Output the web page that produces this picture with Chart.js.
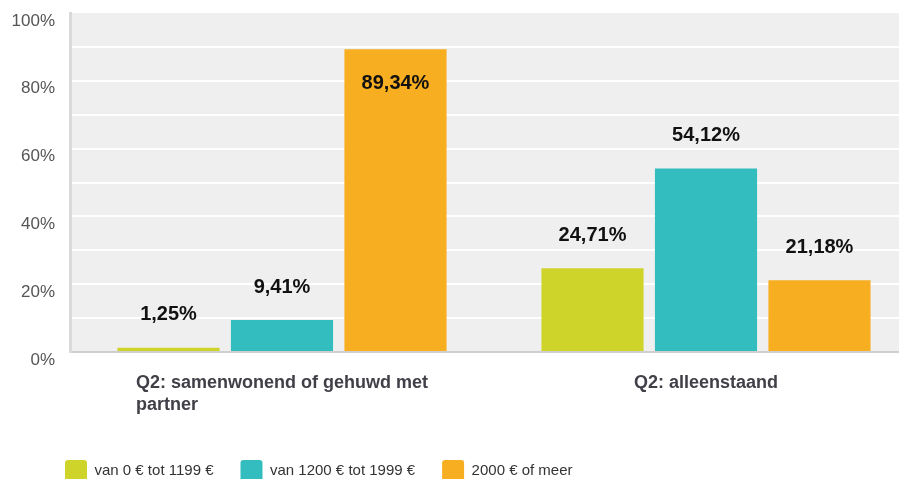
<!DOCTYPE html>
<html>
<head>
<meta charset="utf-8">
<script src="https://cdn.jsdelivr.net/npm/chart.js@4/dist/chart.umd.min.js"></script>
<style>
html,body{margin:0;padding:0;background:#fff;overflow:hidden;}
#wrap{position:relative;width:930px;height:492px;}
</style>
</head>
<body>
<div id="wrap"><canvas id="c"></canvas></div>
<script>
const categories = [
  ["Q2: samenwonend of gehuwd met", "partner"],
  ["Q2: alleenstaand"]
];
const seriesNames = ["van 0 € tot 1199 €", "van 1200 € tot 1999 €", "2000 € of meer"];
const low = [1.25, 24.71];
const mid = [9.41, 54.12];
const high = [89.34, 21.18];
const yTicks = [0, 20, 40, 60, 80, 100];
const colors = ["#cfd42a", "#33bdbf", "#f7ae20"];

const FONT = "'Liberation Sans', Arial, sans-serif";

const plotBg = {
  id: 'plotBg',
  beforeDraw(chart) {
    const {ctx, chartArea: a} = chart;
    ctx.save();
    ctx.fillStyle = '#efefef';
    ctx.fillRect(a.left, a.top, a.right - a.left, a.bottom - a.top);
    ctx.restore();
  }
};

const legendShift = {
  id: 'legendShift',
  afterLayout(chart) {
    if (chart.legend) chart.legend.left = 38;
  }
};

const valueLabels = {
  id: 'valueLabels',
  afterDatasetsDraw(chart) {
    const {ctx} = chart;
    ctx.save();
    ctx.font = "bold 20px " + FONT;
    ctx.fillStyle = '#111';
    ctx.textAlign = 'center';
    ctx.textBaseline = 'middle';
    chart.data.datasets.forEach((ds, di) => {
      const meta = chart.getDatasetMeta(di);
      meta.data.forEach((el, i) => {
        let y = el.y - 33;
        if (y < chart.chartArea.top + 20) y = el.y + 34;
        ctx.fillText(ds.data[i].toFixed(2).replace('.', ',') + '%', el.x, y);
      });
    });
    ctx.restore();
  }
};

const catLabels = {
  id: 'catLabels',
  afterDraw(chart) {
    const {ctx} = chart;
    const xs = chart.scales.x;
    ctx.save();
    ctx.font = "bold 18px " + FONT;
    ctx.fillStyle = '#404048';
    ctx.textAlign = 'left';
    ctx.textBaseline = 'middle';
    categories.forEach((lines, i) => {
      const cx = xs.getPixelForTick(i);
      const w = Math.max(...lines.map(l => ctx.measureText(l).width));
      lines.forEach((l, k) => {
        ctx.fillText(l, cx - w / 2, chart.chartArea.bottom + 31 + k * 22);
      });
    });
    ctx.restore();
  }
};

new Chart(document.getElementById('c'), {
  type: 'bar',
  data: {
    labels: categories.map(c => c.join(' ')),
    datasets: [
      {label: seriesNames[0], data: low, backgroundColor: colors[0]},
      {label: seriesNames[1], data: mid, backgroundColor: colors[1]},
      {label: seriesNames[2], data: high, backgroundColor: colors[2]}
    ]
  },
  options: {
    responsive: true,
    maintainAspectRatio: false,
    animation: false,
    devicePixelRatio: 1,
    datasets: {bar: {categoryPercentage: 0.803, barPercentage: 0.9, borderWidth: 0}},
    layout: {padding: {left: 10, right: 12, top: 13, bottom: 0}},
    plugins: {
      tooltip: {enabled: false},
      legend: {
        position: 'bottom',
        align: 'start',
        labels: {
          font: {family: FONT, size: 15},
          color: '#333',
          boxWidth: 22,
          boxHeight: 22,
          padding: 27,
          useBorderRadius: true,
          borderRadius: 3
        }
      }
    },
    scales: {
      x: {
        grid: {display: false},
        border: {display: true, color: '#cfcfcf', width: 2},
        ticks: {display: false},
        afterFit(s) { s.height = 81; }
      },
      y: {
        min: 0,
        max: 100,
        afterBuildTicks(s) {
          const t = [];
          for (let v = 0; v <= 100; v += 10) t.push({value: v});
          s.ticks = t;
        },
        afterFit(s) { s.width = 60; s.paddingTop = 0; s.paddingBottom = 0; },
        grid: {
          color: ctx => (ctx.tick && (ctx.tick.value === 0 || ctx.tick.value === 100)) ? 'rgba(0,0,0,0)' : '#ffffff',
          lineWidth: 2,
          drawTicks: false
        },
        border: {display: true, color: '#d9d9d9', width: 3},
        ticks: {
          padding: 15,
          labelOffset: 8,
          color: '#555',
          font: {family: FONT, size: 17},
          callback: v => yTicks.includes(v) ? v + '%' : ''
        }
      }
    }
  },
  plugins: [plotBg, legendShift, valueLabels, catLabels]
});
</script>
</body>
</html>
